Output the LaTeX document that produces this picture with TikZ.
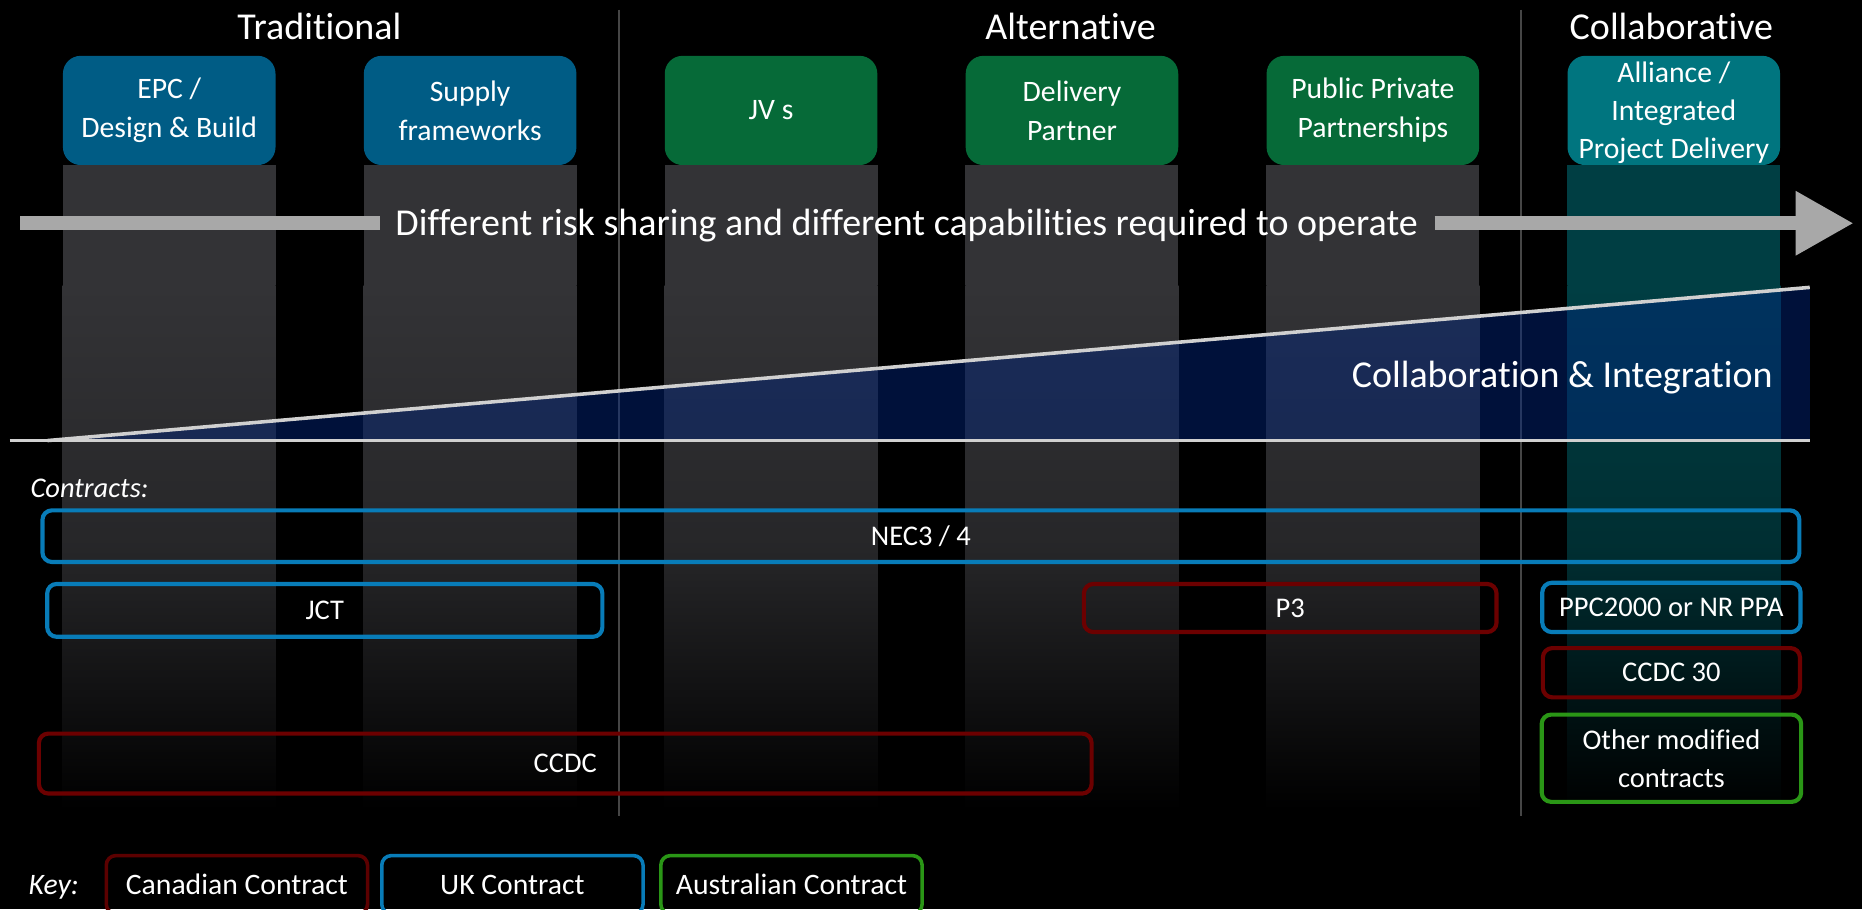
\documentclass[tikz,border=0pt]{standalone}
\usepackage{fontspec}
\setmainfont{Carlito}[Ligatures=NoCommon]
\usetikzlibrary{arrows.meta,positioning}

\definecolor{tradblue}{RGB}{0,92,133}
\definecolor{altgreen}{RGB}{6,106,56}
\definecolor{collabteal}{RGB}{0,117,127}
\definecolor{bandgray}{RGB}{51,51,54}
\definecolor{bandteal}{RGB}{0,62,67}
\definecolor{ukblue}{RGB}{8,124,184}
\definecolor{canred}{RGB}{108,0,0}
\definecolor{ausgreen}{RGB}{42,150,22}
\definecolor{arrowgray}{RGB}{168,168,168}
\definecolor{wedgeblue}{RGB}{0,38,129}
\definecolor{wedgeline}{RGB}{208,208,208}
\definecolor{sepgray}{RGB}{70,70,70}

\begin{document}
\begin{tikzpicture}[x=1pt, y=-1pt,
  heading/.style={text=white, inner sep=0pt, font=\fontsize{32}{38}\selectfont},
  note/.style={text=white, inner sep=0pt, font=\fontsize{24}{30}\selectfont\itshape},
  model/.style={rounded corners=15pt, minimum width=179pt, minimum height=92pt,
                align=center, text=white, inner sep=0pt, font=\fontsize{25}{33}\selectfont},
  contract/.style={draw, rounded corners=8pt, line width=3.5pt, align=center,
                   text=white, inner sep=0pt, font=\fontsize{24}{32}\selectfont},
  uk/.style={contract, draw=ukblue},
  canada/.style={contract, draw=canred},
  aus/.style={contract, draw=ausgreen},
  keybox/.style={contract, line width=3pt, minimum width=220pt, minimum height=49pt,
                 font=\fontsize{25}{30}\selectfont}]

  % Background
  \useasboundingbox[fill=black] (0,0) rectangle (1568,765.5);
  \coordinate (bandmid) at (0,240);
  \coordinate (floor) at (0,682);

  % Separators
  \draw[sepgray, line width=1.5pt] (521.5,8) -- (521.5,687);
  \draw[sepgray, line width=1.5pt] (1281,8) -- (1281,687);

  % Headings
  \node[heading, anchor=base] (trad) at (269,33) {Traditional};
  \node[heading, anchor=base] (alt) at (901.5,33) {Alternative};
  \node[heading, anchor=base] (collabhead) at (1407.5,33) {Collaborative};

  % Delivery models
  \node(epc)[model, fill=tradblue] at (142.5,93) {EPC /\\Design \& Build};
  \node[right=74pt of epc] (supply)[model, fill=tradblue] {Supply\\frameworks};
  \node[right=74pt of supply] (jv)[model, fill=altgreen] {JV s};
  \node[right=74pt of jv] (partner)[model, fill=altgreen] {Delivery\\Partner};
  \node[right=74pt of partner] (ppp)[model, fill=altgreen] {Public Private\\Partnerships};
  \node[right=74pt of ppp] (alliance)[model, fill=collabteal, text depth=0pt,
        font=\fontsize{25}{32}\selectfont] {Alliance /\\Integrated\\Project Delivery};

  % Columns under the models
  \foreach \m in {epc,supply,jv,partner,ppp} {
    \fill[bandgray] (\m.south west) rectangle (\m.east |- bandmid);
    \shade[top color=bandgray, bottom color=black, middle color=bandgray!75!black]
      (\m.west |- bandmid) rectangle (\m.east |- floor);
  }
  \fill[bandteal] (alliance.south west) rectangle (alliance.east |- bandmid);
  \shade[top color=bandteal, bottom color=black, middle color=bandteal!75!black]
    (alliance.west |- bandmid) rectangle (alliance.east |- floor);

  % Risk arrow
  \node[heading, anchor=base] (risk) at (763.5,198)
    {Different risk sharing and different capabilities required to operate};
  \coordinate (tail) at (17,188);
  \coordinate (tip) at (1561,188);
  \draw[arrowgray, line width=12pt] (tail) -- ([xshift=-13pt]risk.west |- tail);
  \draw[arrowgray, line width=12pt, -{Triangle[length=49pt,width=51pt]}]
    ([xshift=14pt]risk.east |- tail) -- (tip);

  % Collaboration wedge
  \fill[wedgeblue, opacity=0.45] (40,371) -- (1524,242) -- (1524,371) -- cycle;
  \draw[wedgeline, line width=3pt] (8,371) -- (1524,371);
  \draw[wedgeline, line width=3pt] (40,371) -- (1524,242);
  \node[heading, anchor=base east] (collab) at (1493,326) {Collaboration \& Integration};

  % Contracts
  \node[note, anchor=base west] (contracts) at (25.5,419) {Contracts:};
  \node(nec)[uk, minimum width=1479.5pt, minimum height=43.5pt] at (775.5,451.5) {NEC3 / 4};
  \node(jct)[uk, minimum width=467.5pt, minimum height=44.5pt] at (273.5,514) {JCT};
  \node(p3)[canada, minimum width=347.5pt, minimum height=40.5pt] at (1086.5,512) {P3};
  \node(ppc)[uk, minimum width=217.5pt, minimum height=41.5pt] at (1407.5,511.5) {PPC2000 or NR PPA};
  \node[below=10pt of ppc] (ccdcthirty)[canada, minimum width=216.5pt, minimum height=41.5pt] {CCDC 30};
  \node[below=11pt of ccdcthirty] (other)[aus, minimum width=218.5pt, minimum height=73.5pt] {Other modified\\contracts};
  \node(ccdc)[canada, minimum width=886.5pt, minimum height=50.5pt] at (476,643) {CCDC};

  % Key
  \node[note, anchor=base west, font=\fontsize{25}{30}\selectfont\itshape] (key) at (24,753) {Key:};
  \node(canadakey)[keybox, draw=canred!85!black] at (199.5,745) {Canadian Contract};
  \node[right=9pt of canadakey] (ukkey)[keybox, draw=ukblue] {UK Contract};
  \node[right=12pt of ukkey] (auskey)[keybox, draw=ausgreen] {Australian Contract};

\end{tikzpicture}
\end{document}
